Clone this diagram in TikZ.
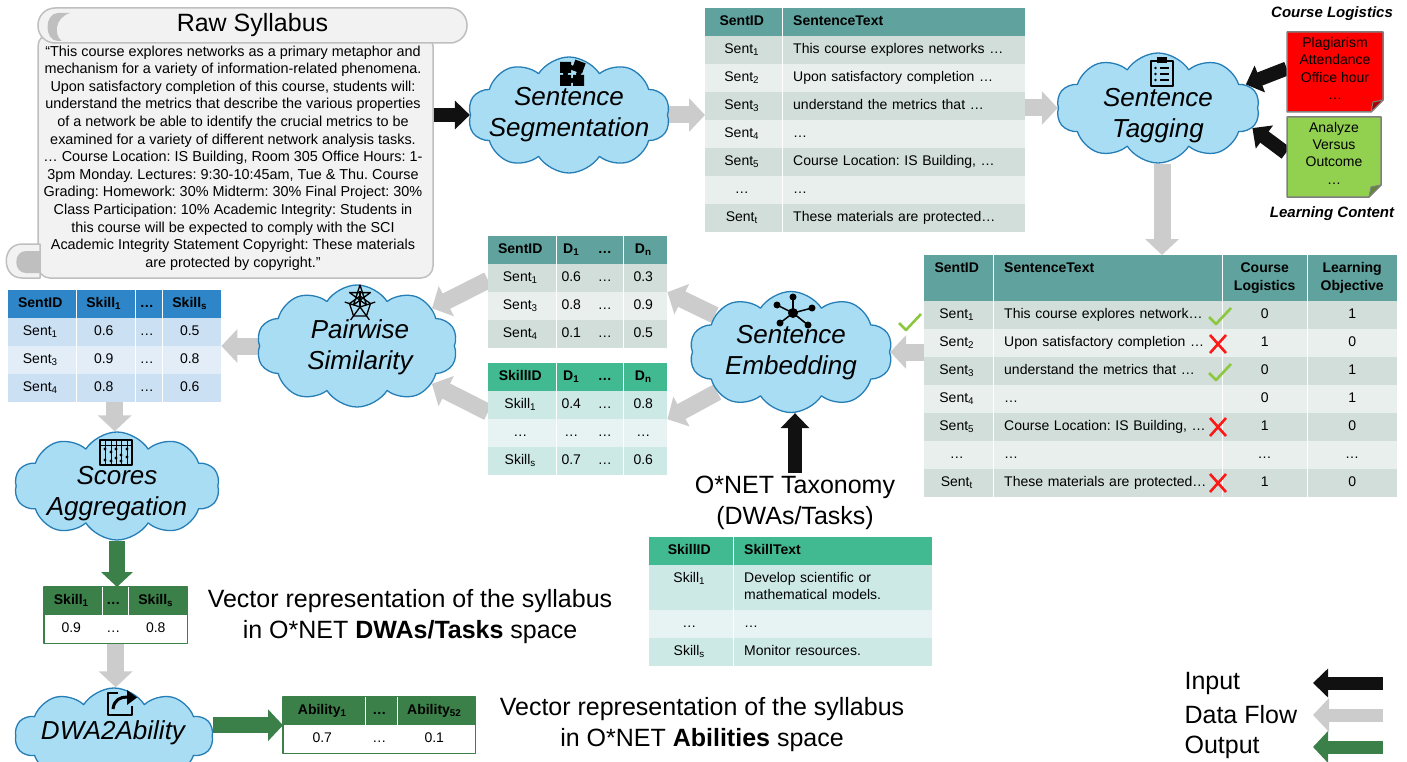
\documentclass[tikz,border=0pt]{standalone}
\usepackage{fontspec}
\setmainfont{Liberation Sans}
\frenchspacing
\usetikzlibrary{shapes.symbols,matrix,arrows.meta,backgrounds}
\definecolor{cloudfill}{RGB}{168,221,243}
\definecolor{cloudline}{RGB}{38,126,182}
\definecolor{flowgray}{RGB}{204,204,204}
\definecolor{inblack}{RGB}{17,17,17}
\definecolor{outgreen}{RGB}{59,128,72}
\definecolor{hdteal}{RGB}{96,163,158}
\definecolor{tealdk}{RGB}{210,222,217}
\definecolor{teallt}{RGB}{233,239,236}
\definecolor{hdmint}{RGB}{66,186,145}
\definecolor{mintdk}{RGB}{205,233,230}
\definecolor{mintlt}{RGB}{230,243,242}
\definecolor{hdblue}{RGB}{46,134,200}
\definecolor{bluedk}{RGB}{204,224,243}
\definecolor{bluelt}{RGB}{226,237,248}
\definecolor{notered}{RGB}{255,0,0}
\definecolor{notegreen}{RGB}{146,208,80}
\definecolor{notegray}{RGB}{127,127,127}
\definecolor{scrollfill}{RGB}{242,242,242}
\definecolor{scrollline}{RGB}{191,191,191}
\definecolor{tickgreen}{RGB}{141,198,63}
\definecolor{crossred}{RGB}{255,24,24}
\newcommand\tabfont{\fontsize{14}{17.5}\selectfont}
\tikzset{
  proc/.style={cloud,cloud puffs=10,cloud puff arc=115,cloud ignores aspect,draw=cloudline,fill=cloudfill,line width=1.3pt},
  proctxt/.style={font=\fontsize{26}{31}\selectfont\itshape,align=center},
  bigtxt/.style={font=\fontsize{25}{31}\selectfont,align=center},
  notetxt/.style={font=\fontsize{14}{17.3}\selectfont,align=center,minimum width=96pt},
  inarr/.style={draw=inblack,line width=14pt,-{Triangle[length=15pt,width=28pt]}},
  flowarr/.style={draw=flowgray,line width=17pt,-{Triangle[length=16pt,width=33pt]}},
  outarr/.style={draw=outgreen,line width=16pt,-{Triangle[length=15pt,width=31pt]}},
  scroll/.style={fill=scrollfill,draw=scrollline,line width=1.5pt},
  tab/.style={matrix of nodes,inner sep=0pt,row sep=0pt,column sep=0pt,anchor=north west,
    nodes={minimum height=28pt,inner sep=0pt,font=\tabfont,align=center,text height=10.5pt,text depth=3.5pt}},
  tabhead/.style={row 1/.style={nodes={fill=#1,font=\bfseries\tabfont}}},
  tabrows/.style 2 args={nodes={fill=#2},every even row/.style={nodes={fill=#1}}},
  lefttxt/.style={text width=#1,align=left,inner xsep=11pt,execute at begin node={\hyphenpenalty=10000\relax}},
  colsep/.style={draw=white,line width=0.8pt},
  tickmk/.pic={\draw[tickgreen,line width=2.6pt] (-11,0) -- (-4,7) -- (11,-9);},
  crossmk/.pic={\draw[crossred,line width=2.6pt] (-8,-9) -- (8,9) (-8,9) -- (8,-9);}
}
\begin{document}
\begin{tikzpicture}[x=1pt,y=-1pt,line join=round]
\useasboundingbox (0,0) rectangle (1407,762);
% raw syllabus
\node[scroll,rounded corners=12pt,minimum width=395pt,minimum height=244pt] (scroll) at (235.5,156) {};
\filldraw[scroll] (40,244) -- (22,244) .. controls (1,244) and (1,278) .. (22,278) -- (40,278) -- cycle;
\fill[scrollline] (40,251) -- (26,251) .. controls (13,251) and (13,273) .. (26,273) -- (40,273) -- cycle;
\node[scroll,rounded corners=17pt,minimum width=429pt,minimum height=35pt,font=\fontsize{25}{30}\selectfont] (bar) at (252.5,25.5) {Raw Syllabus};
\fill[scrollline] (70,13) -- (58,13) .. controls (44,13) and (44,41) .. (58,41) -- (62,41) .. controls (54,36) and (54,18) .. (70,13) -- cycle;
\node[font=\fontsize{14.4}{17.6}\selectfont,align=center] (syl) at (233,158) {“This course explores networks as a primary metaphor and\\mechanism for a variety of information-related phenomena.\\Upon satisfactory completion of this course, students will:\\understand the metrics that describe the various properties\\of a network be able to identify the crucial metrics to be\\examined for a variety of different network analysis tasks.\\… Course Location: IS Building, Room 305 Office Hours: 1-\\3pm Monday. Lectures: 9:30-10:45am, Tue \& Thu. Course\\Grading: Homework: 30\% Midterm: 30\% Final Project: 30\%\\Class Participation: 10\% Academic Integrity: Students in\\this course will be expected to comply with the SCI\\Academic Integrity Statement Copyright: These materials\\are protected by copyright.”};
% processing steps
\node[proc,minimum width=202pt,minimum height=116pt] (seg) at (569,115) {};
\node[proc,minimum width=203pt,minimum height=110pt] (tag) at (1158,108) {};
\node[proc,minimum width=203pt,minimum height=121pt] (emb) at (791,352) {};
\node[proc,minimum width=201pt,minimum height=122pt] (pair) at (357,346) {};
\node[proc,minimum width=205pt,minimum height=108pt] (agg) at (117,486) {};
\node[proc,minimum width=198pt,minimum height=96pt] (dwa) at (114,736) {};
% icons
\fill (560,62) rectangle (571,73) (560,75) rectangle (571,86) (573,75) rectangle (584,86);
\fill[rotate around={-20:(578,67)}] (573,61) rectangle (584,72);
\fill (571,67.5) circle (2.5pt) (565.5,74) circle (2.5pt) (578.5,74) circle (2.5pt) (572,80.5) circle (2.5pt);
\draw[line width=1.6pt] (1151,61) rectangle (1173,86);
\fill (1157,57) rectangle (1167,63);
\foreach \yy in {68,74,80} {\draw[line width=1.2pt] (1160,\yy) -- (1169,\yy); \fill (1155.5,\yy) circle (1.3pt);}
\foreach \dx/\dy in {0/-16,-16/-8,19/-5,-13/10,15/12} {\draw[line width=1.5pt] (793,313) -- ++(\dx,\dy); \fill (793+\dx,313+\dy) circle (3.5pt);}
\fill (793,313) circle (5pt);
\draw[line width=1.3pt] (360,307) +(-90:11) -- +(-18:11) -- +(54:11) -- +(126:11) -- +(198:11) -- cycle
  +(-90:11) -- +(54:11) -- +(198:11) -- +(-18:11) -- +(126:11) -- cycle;
\foreach \a in {-90,-18,54,126,198} \draw[line width=1.3pt] (360,307) -- +(\a:16);
\draw[line width=1.5pt] (100,440) rectangle (132,465);
\draw[line width=1pt] (100,445) -- (132,445);
\foreach \xx in {105,111,116,121,127} \draw[line width=0.8pt] (\xx,440) -- (\xx,465);
\foreach \xx/\yy in {105/449,111/452,116/449,121/455,127/449,105/460,111/461,116/458,121/461,127/457} \fill (\xx,\yy) circle (1.7pt);
\draw[line width=1.6pt] (118,693) -- (108,693) -- (108,715) -- (132,715) -- (132,706);
\draw[line width=3pt] (113,709) .. controls (114,700) and (120,697) .. (127,697);
\fill (127,690) -- (137,697.5) -- (127,705) -- cycle;
% step names
\node[proctxt] (segtxt) at (569,115) {Sentence\\Segmentation};
\node[proctxt] (tagtxt) at (1158,116) {Sentence\\Tagging};
\node[proctxt] (embtxt) at (791,353) {Sentence\\Embedding};
\node[proctxt] (pairtxt) at (360,347) {Pairwise\\Similarity};
\node[proctxt] (aggtxt) at (117,494) {Scores\\Aggregation};
\node[proctxt] (dwatxt) at (113,733) {DWA2Ability};
% tables
\matrix (segtab) [tab,tabrows={tealdk}{teallt},tabhead=hdteal,
  column 1/.style={nodes={minimum width=77pt}},column 2/.style={nodes={lefttxt=221pt}}] at (705,8) {
  SentID & SentenceText \\
  Sent\textsubscript{1} & This course explores networks … \\
  Sent\textsubscript{2} & Upon satisfactory completion … \\
  Sent\textsubscript{3} & understand the metrics that … \\
  Sent\textsubscript{4} & … \\
  Sent\textsubscript{5} & Course Location: IS Building, … \\
  … & … \\
  Sent\textsubscript{t} & These materials are protected… \\
};
\draw[colsep] (segtab-1-2.north west) -- (segtab-8-2.south west);
\matrix (tagtab) [tab,tabrows={tealdk}{teallt},tabhead=hdteal,
  row 1/.append style={nodes={minimum height=46pt,text depth=21.5pt}},
  column 1/.style={nodes={minimum width=69pt}},column 2/.style={nodes={lefttxt=207pt}},
  column 3/.style={nodes={text width=85pt}},column 4/.style={nodes={text width=90pt}}] at (924,255) {
  SentID & SentenceText & Course Logistics & Learning Objective \\
  Sent\textsubscript{1} & This course explores network… & 0 & 1 \\
  Sent\textsubscript{2} & Upon satisfactory completion … & 1 & 0 \\
  Sent\textsubscript{3} & understand the metrics that … & 0 & 1 \\
  Sent\textsubscript{4} & … & 0 & 1 \\
  Sent\textsubscript{5} & Course Location: IS Building, … & 1 & 0 \\
  … & … & … & … \\
  Sent\textsubscript{t} & These materials are protected… & 1 & 0 \\
};
\foreach \c in {2,3,4} \draw[colsep] (tagtab-1-\c.north west) -- (tagtab-8-\c.south west);
\pic at (1220,317) {tickmk};
\pic at (1218,344) {crossmk};
\pic at (1220,373) {tickmk};
\pic at (1218,427) {crossmk};
\pic at (1218,483) {crossmk};
\pic at (910,323) {tickmk};
\matrix (semtab) [tab,tabrows={tealdk}{teallt},tabhead=hdteal,
  column 1/.style={nodes={minimum width=68pt}},column 2/.style={nodes={minimum width=34pt}},
  column 3/.style={nodes={minimum width=33pt}},column 4/.style={nodes={minimum width=44pt}}] at (488,236) {
  SentID & D\textsubscript{1} & … & D\textsubscript{n} \\
  Sent\textsubscript{1} & 0.6 & … & 0.3 \\
  Sent\textsubscript{3} & 0.8 & … & 0.9 \\
  Sent\textsubscript{4} & 0.1 & … & 0.5 \\
};
\foreach \c in {2,4} \draw[colsep] (semtab-1-\c.north west) -- (semtab-4-\c.south west);
\matrix (sktab) [tab,tabrows={mintdk}{mintlt},tabhead=hdmint,
  column 1/.style={nodes={minimum width=68pt}},column 2/.style={nodes={minimum width=34pt}},
  column 3/.style={nodes={minimum width=33pt}},column 4/.style={nodes={minimum width=44pt}}] at (488,363) {
  SkillID & D\textsubscript{1} & … & D\textsubscript{n} \\
  Skill\textsubscript{1} & 0.4 & … & 0.8 \\
  … & … & … & … \\
  Skill\textsubscript{s} & 0.7 & … & 0.6 \\
};
\foreach \c in {2,4} \draw[colsep] (sktab-1-\c.north west) -- (sktab-4-\c.south west);
\matrix (skmat) [tab,tabrows={bluedk}{bluelt},tabhead=hdblue,
  column 1/.style={nodes={minimum width=68pt}},column 2/.style={nodes={minimum width=59pt}},
  column 3/.style={nodes={minimum width=27pt}},column 4/.style={nodes={minimum width=59pt}}] at (8,290) {
  SentID & Skill\textsubscript{1} & … & Skill\textsubscript{s} \\
  Sent\textsubscript{1} & 0.6 & … & 0.5 \\
  Sent\textsubscript{3} & 0.9 & … & 0.8 \\
  Sent\textsubscript{4} & 0.8 & … & 0.6 \\
};
\foreach \c in {2,3,4} \draw[colsep] (skmat-1-\c.north west) -- (skmat-4-\c.south west);
\matrix (onettab) [tab,tabrows={mintdk}{mintlt},tabhead=hdmint,
  row 2/.style={nodes={minimum height=45pt,text depth=21pt}},
  column 1/.style={nodes={minimum width=84pt}},column 2/.style={nodes={lefttxt=177pt}}] at (649,537) {
  SkillID & SkillText \\
  Skill\textsubscript{1} & Develop scientific or mathematical models. \\
  … & … \\
  Skill\textsubscript{s} & Monitor resources. \\
};
\draw[colsep] (onettab-1-2.north west) -- (onettab-4-2.south west);
% output vectors
\matrix (vec1) [tab,tabrows={white}{white},tabhead=outgreen,
  column 1/.style={nodes={minimum width=58pt}},column 2/.style={nodes={minimum width=26pt}},
  column 3/.style={nodes={minimum width=59pt}}] at (44,587) {
  Skill\textsubscript{1} & … & Skill\textsubscript{s} \\
  0.9 & … & 0.8 \\
};
\draw[outgreen,line width=1.2pt] (vec1.north west) rectangle (vec1.south east);
\foreach \c in {2,3} \draw[colsep] (vec1-1-\c.north west) -- (vec1-1-\c.south west);
\matrix (abvec) [tab,tabrows={white}{white},tabhead=outgreen,
  column 1/.style={nodes={minimum width=82pt}},column 2/.style={nodes={minimum width=32pt}},
  column 3/.style={nodes={minimum width=78pt}}] at (283,697) {
  Ability\textsubscript{1} & … & Ability\textsubscript{52} \\
  0.7 & … & 0.1 \\
};
\draw[outgreen,line width=1.2pt] (abvec.north west) rectangle (abvec.south east);
\foreach \c in {2,3} \draw[colsep] (abvec-1-\c.north west) -- (abvec-1-\c.south west);
% keyword notes
\filldraw[fill=notered,draw=notegray,line width=1.5pt] (1287,32) -- (1383,32) -- (1383,100) -- (1371,112) -- (1287,112) -- cycle;
\filldraw[fill=notered!65!black,draw=notegray,line width=1pt] (1383,100) -- (1371,112) -- (1373,102) -- cycle;
\filldraw[fill=notegreen,draw=notegray,line width=1.5pt] (1287,117) -- (1381,117) -- (1381,185) -- (1369,197) -- (1287,197) -- cycle;
\filldraw[fill=notegreen!65!black,draw=notegray,line width=1pt] (1381,185) -- (1369,197) -- (1371,187) -- cycle;
\node[notetxt] (clnote) at (1335,68.5) {Plagiarism\\Attendance\\Office hour\\…};
\node[notetxt] (lcnote) at (1334,153) {Analyze\\Versus\\Outcome\\…};
\node[font=\fontsize{15}{18}\selectfont\bfseries\itshape] (cltitle) at (1332,14) {Course Logistics};
\node[font=\fontsize{15}{18}\selectfont\bfseries\itshape] (lctitle) at (1332,214) {Learning Content};
% captions
\node[bigtxt] (onet) at (795,503) {O*NET Taxonomy\\(DWAs/Tasks)};
\node[bigtxt] (dwavec) at (410,617) {Vector representation of the syllabus\\in O*NET \textbf{DWAs/Tasks} space};
\node[bigtxt] (abvectxt) at (702,725) {Vector representation of the syllabus\\in O*NET \textbf{Abilities} space};
% legend
\node[bigtxt,anchor=west] (leg1) at (1181,683) {Input};
\node[bigtxt,anchor=west] (leg2) at (1181,715) {Data Flow};
\node[bigtxt,anchor=west] (leg3) at (1181,747) {Output};
\coordinate (leg1a) at (1383,683); \coordinate (leg1b) at (1313,683);
\coordinate (leg2a) at (1383,715); \coordinate (leg2b) at (1313,715);
\coordinate (leg3a) at (1383,747); \coordinate (leg3b) at (1313,747);
\begin{scope}[on background layer]
\draw[inarr,line width=13pt] (leg1a) -- (leg1b);
\draw[flowarr,line width=13pt] (leg2a) -- (leg2b);
\draw[outarr,line width=13pt] (leg3a) -- (leg3b);
\draw[inarr] (scroll.east |- seg.west) -- (seg.west);
\draw[flowarr] (seg.east) -- (seg.east -| segtab.west);
\draw[flowarr] (segtab.east |- tag.west) -- (tag.west);
\draw[inarr] (clnote.west) -- (tag.15);
\draw[inarr] (lcnote.west) -- (tag.-12);
\draw[flowarr] ([xshift=4pt]tag.south) -- ([xshift=4pt]tag.south |- tagtab.north);
\draw[flowarr] (tagtab.west |- emb.east) -- (emb.east);
\draw[inarr] (onet.north) -- (onet.north |- emb.south);
\draw[flowarr] (emb) -- (semtab.east);
\draw[flowarr] (emb) -- (sktab.east);
\draw[flowarr] ([yshift=12pt]semtab.west) -- (pair);
\draw[flowarr] ([yshift=7pt]sktab.west) -- (pair);
\draw[flowarr] (pair.west) -- (pair.west -| skmat.east);
\draw[flowarr] (skmat.south) -- (skmat.south |- agg.north);
\draw[outarr] (agg.south) -- (agg.south |- vec1.north);
\draw[flowarr] (vec1.south) -- (vec1.south |- dwa.north);
\draw[outarr] (dwa.east |- abvec.west) -- (abvec.west);
\end{scope}
\end{tikzpicture}
\end{document}
